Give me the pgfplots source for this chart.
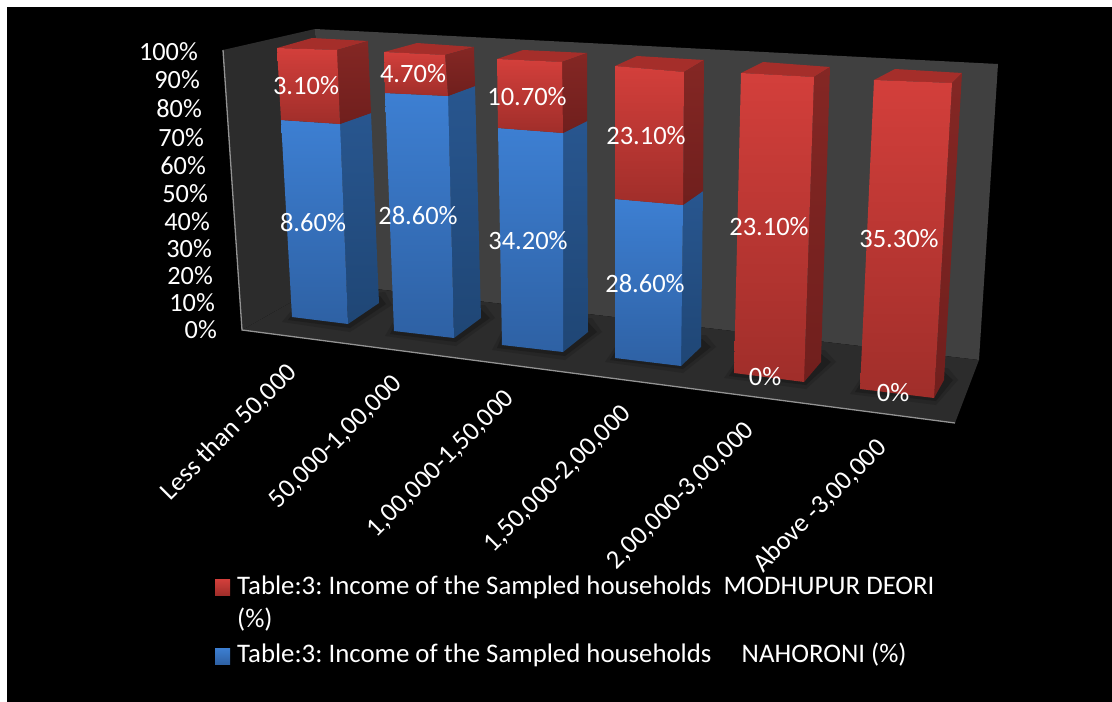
\documentclass[border=0pt]{standalone}
\usepackage{pgfplots}
\usepackage{fontspec}
\setmainfont{Carlito}
\frenchspacing
\pgfplotsset{compat=1.18}
\definecolor{bluetop}{HTML}{3D7FD2}
\definecolor{bluebot}{HTML}{2E61A4}
\definecolor{bluesidetop}{HTML}{28568F}
\definecolor{bluesidebot}{HTML}{1F4675}
\definecolor{redtop}{HTML}{D33F3B}
\definecolor{redbot}{HTML}{A02E2A}
\definecolor{redsidetop}{HTML}{842724}
\definecolor{redsidebot}{HTML}{701F1D}
\definecolor{redcap}{HTML}{A52E2A}
\definecolor{wallL}{HTML}{2C2C2C}
\definecolor{wallB}{HTML}{404040}
\definecolor{floorc}{HTML}{2C2C2C}
\definecolor{shadowa}{HTML}{262626}
\definecolor{shadowb}{HTML}{1E1E1E}
\newcommand\polyflat[2]{\addplot[draw=none,fill=#1] coordinates {#2} -- cycle;}
\newcommand\polygrad[3]{\addplot[draw=none,top color=#1,bottom color=#2] coordinates {#3} -- cycle;}
\newcommand\ticklab[3]{\node[anchor=east,text=white,inner sep=0pt] at (#1,#2) {\fontsize{26.3}{30}\selectfont #3};}
\newcommand\vallab[3]{\node[text=white,inner sep=0pt] at (#1,#2) {\fontsize{26.5}{30}\selectfont #3};}
\newcommand\catlab[3]{\node[text=white,inner sep=0pt,rotate=45] at (#1,#2) {\fontsize{26.5}{30}\selectfont #3};}
\begin{document}
\begin{tikzpicture}
\begin{axis}[width=1112pt,height=702pt,scale only axis,hide axis,clip=false,
  xmin=0,xmax=1112,ymin=0,ymax=702,y dir=reverse]
% page and background
\polyflat{white}{(0,0)(1112,0)(1112,702)(0,702)}
\polyflat{black}{(7,7)(1112,7)(1112,702)(7,702)}
% walls and floor
\polyflat{wallL}{(223,50)(315,29)(325,283)(242,330)}
\polyflat{wallB}{(315,29)(998,64)(979,360)(325,283)}
\polyflat{floorc}{(242,330)(325,283)(979,360)(955,423)}
\addplot[color=gray!85,line width=1.3pt] coordinates {(223,50)(242,330)(955,423)};
% floor shadows
\polyflat{shadowa}{(282,322)(350,332)(392,305)(385,292)(300,300)}
\polyflat{shadowa}{(385,336)(456,346)(495,318)(485,305)(400,310)}
\polyflat{shadowa}{(492,350)(565,360)(602,332)(592,318)(505,325)}
\polyflat{shadowa}{(605,362)(683,373)(716,347)(706,335)(620,340)}
\polyflat{shadowa}{(724,378)(806,389)(836,362)(825,350)(740,355)}
\polyflat{shadowa}{(850,394)(936,405)(958,380)(948,368)(865,372)}
\polyflat{shadowb}{(288,320)(350,328)(386,304)(380,296)(300,304)}
\polyflat{shadowb}{(390,334)(456,342)(490,318)(481,309)(400,314)}
\polyflat{shadowb}{(497,348)(565,356)(597,332)(588,322)(505,329)}
\polyflat{shadowb}{(610,360)(683,369)(711,347)(702,339)(620,344)}
\polyflat{shadowb}{(729,376)(806,385)(831,362)(821,354)(740,359)}
\polyflat{shadowb}{(855,392)(936,401)(953,380)(944,372)(865,376)}
% bar 1
\polyflat{redcap}{(277,48)(337,50)(368,41)(312,38)}
\polygrad{bluesidetop}{bluesidebot}{(340,124)(371,113)(379,303)(348,324)}
\polygrad{redsidetop}{redsidebot}{(337,50)(368,41)(371,113)(340,124)}
\polygrad{bluetop}{bluebot}{(281,120)(340,124)(348,324)(292,317)}
\polygrad{redtop}{redbot}{(277,48)(337,50)(340,124)(281,120)}
% bar 2
\polyflat{redcap}{(384,52)(445,55)(474,47)(417,43)}
\polygrad{bluesidetop}{bluesidebot}{(448,96)(475,86)(481,318)(454,338)}
\polygrad{redsidetop}{redsidebot}{(445,55)(474,47)(475,86)(448,96)}
\polygrad{bluetop}{bluebot}{(385,93)(448,96)(454,338)(394,331)}
\polygrad{redtop}{redbot}{(384,52)(445,55)(448,96)(385,93)}
% bar 3
\polyflat{redcap}{(497,59)(562,62)(587,53)(523,50)}
\polygrad{bluesidetop}{bluesidebot}{(563,133)(587,121)(588,332)(563,352)}
\polygrad{redsidetop}{redsidebot}{(562,62)(587,53)(587,121)(563,133)}
\polygrad{bluetop}{bluebot}{(498,128)(563,133)(563,352)(502,345)}
\polygrad{redtop}{redbot}{(497,59)(562,62)(563,133)(498,128)}
% bar 4
\polyflat{redcap}{(615,66)(684,72)(704,60)(637,56)}
\polygrad{bluesidetop}{bluesidebot}{(683,205)(703,191)(701,347)(681,366)}
\polygrad{redsidetop}{redsidebot}{(684,72)(704,60)(703,191)(683,205)}
\polygrad{bluetop}{bluebot}{(615,199)(683,205)(681,366)(615,358)}
\polygrad{redtop}{redbot}{(615,66)(684,72)(683,205)(615,199)}
% bar 5
\polyflat{redcap}{(741,73)(814,77)(830,67)(763,62)}
\polygrad{redsidetop}{redsidebot}{(814,77)(830,67)(821,362)(804,382)}
\polygrad{redtop}{redbot}{(741,73)(814,77)(804,382)(734,373)}
% bar 6
\polyflat{redcap}{(874,80)(952,83)(962,73)(895,69)}
\polygrad{redsidetop}{redsidebot}{(952,83)(962,73)(944,380)(934,398)}
\polygrad{redtop}{redbot}{(874,80)(952,83)(934,398)(860,389)}
% legend keys
\polygrad{redtop}{redbot}{(215,579)(230,579)(230,595)(215,595)}
\polygrad{bluetop}{bluebot}{(215,648)(230,648)(230,664)(215,664)}
% tick labels
\ticklab{198}{52}{100\%}
\ticklab{200}{80}{90\%}
\ticklab{202}{109}{80\%}
\ticklab{204}{138}{70\%}
\ticklab{206}{166}{60\%}
\ticklab{208}{194}{50\%}
\ticklab{210}{222}{40\%}
\ticklab{212}{249}{30\%}
\ticklab{213}{276}{20\%}
\ticklab{215}{303}{10\%}
\ticklab{217}{330}{0\%}
% data labels
\vallab{306}{86}{3.10\%}
\vallab{413}{74}{4.70\%}
\vallab{527}{97}{10.70\%}
\vallab{646}{136}{23.10\%}
\vallab{313}{223}{8.60\%}
\vallab{418}{216}{28.60\%}
\vallab{528}{241}{34.20\%}
\vallab{645}{284}{28.60\%}
\vallab{769}{227}{23.10\%}
\vallab{899}{239}{35.30\%}
\vallab{765}{377}{0\%}
\vallab{893}{393}{0\%}
% category labels
\catlab{229}{432}{Less than 50,000}
\catlab{336}{442}{50,000-1,00,000}
\catlab{441}{464}{1,00,000-1,50,000}
\catlab{558}{479}{1,50,000-2,00,000}
\catlab{681}{496}{2,00,000-3,00,000}
\catlab{820}{506}{Above -3,00,000}
% legend
\node[anchor=west,text=white,inner sep=0pt] at (237,587) {\fontsize{26.8}{30}\selectfont Table:3: Income of the Sampled households\ \ MODHUPUR DEORI};
\node[anchor=west,text=white,inner sep=0pt] at (237,620) {\fontsize{26.8}{30}\selectfont (\%)};
\node[anchor=west,text=white,inner sep=0pt] at (237,655) {\fontsize{26.8}{30}\selectfont Table:3: Income of the Sampled households\ \ \ \ \ NAHORONI (\%)};
\end{axis}
\end{tikzpicture}
\end{document}
